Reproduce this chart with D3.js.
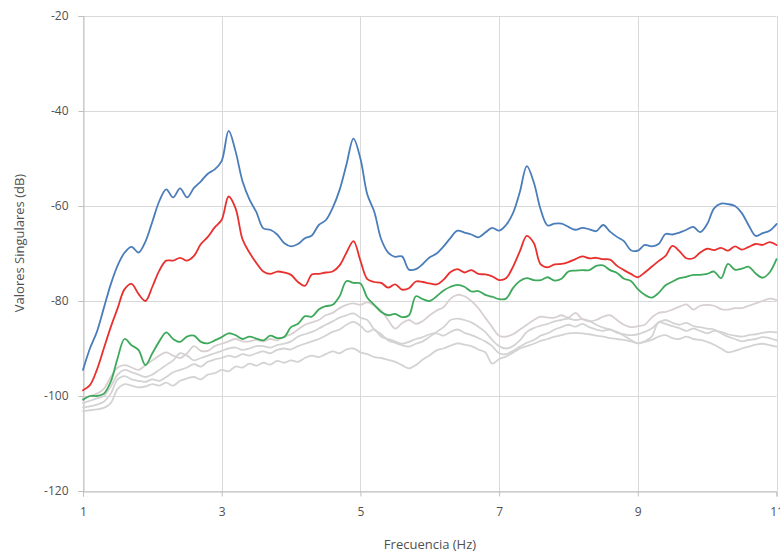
<!DOCTYPE html>
<html>
<head>
<meta charset="utf-8">
<script src="https://cdn.jsdelivr.net/npm/d3@7"></script>
<style>
  html, body { margin: 0; padding: 0; background: #fff; }
  svg { display: block; }
  text { font-family: "Open Sans", "Liberation Sans", sans-serif; fill: #505050; }
</style>
</head>
<body>
<svg id="chart" width="780" height="554"></svg>
<script>
// Frequency grid (Hz), 0.1 Hz step from 1 to 11
const frecuencias = d3.range(0, 101).map(i => +(1 + i / 10).toFixed(1));

// Singular values (dB), one value per frequency
const sv1 = [-94.5,-90.0,-86.5,-81.5,-76.5,-72.5,-69.8,-68.6,-69.8,-67.5,
  -63.3,-59.0,-56.5,-58.2,-56.3,-58.2,-56.2,-54.8,-53.2,-52.3,
  -50.5,-44.2,-48.5,-54.8,-58.6,-61.3,-64.7,-65.0,-66.0,-67.8,
  -68.5,-68.0,-66.8,-66.2,-64.0,-63.0,-60.4,-56.6,-51.2,-45.8,
  -50.0,-57.6,-61.2,-67.0,-69.8,-70.7,-70.6,-73.4,-73.3,-72.2,
  -70.8,-70.0,-68.5,-66.7,-65.2,-65.6,-66.0,-66.6,-65.6,-64.6,
  -65.2,-64.0,-61.5,-57.0,-51.6,-55.0,-60.8,-64.1,-63.7,-63.7,
  -64.4,-65.0,-64.6,-64.9,-65.3,-64.0,-65.4,-66.5,-67.4,-69.3,
  -69.4,-68.2,-68.5,-68.0,-65.9,-66.0,-65.6,-65.0,-64.4,-65.5,
  -63.8,-60.5,-59.5,-59.6,-60.0,-61.5,-64.1,-66.3,-65.7,-65.2,
  -63.8];

const sv2 = [-98.8,-97.7,-94.5,-90.0,-85.5,-81.5,-77.5,-76.4,-78.5,-80.0,
  -77.0,-73.6,-71.5,-71.5,-70.9,-71.5,-70.5,-68.0,-66.5,-64.5,
  -62.9,-58.0,-60.5,-67.0,-69.8,-72.0,-73.8,-74.3,-73.8,-74.0,
  -74.5,-76.0,-76.8,-74.4,-74.3,-74.0,-73.8,-72.5,-69.8,-67.4,
  -71.5,-75.4,-76.0,-76.2,-77.2,-76.5,-77.6,-77.3,-75.9,-76.0,
  -76.3,-76.5,-75.5,-73.9,-73.3,-74.0,-73.5,-74.3,-74.4,-74.8,
  -75.6,-75.2,-72.8,-69.5,-66.3,-67.8,-72.3,-72.9,-72.3,-72.2,
  -71.8,-71.2,-70.6,-71.0,-70.9,-71.2,-71.3,-72.6,-73.5,-74.3,
  -75.0,-74.0,-72.8,-71.6,-70.5,-68.4,-69.5,-71.0,-71.0,-69.8,
  -69.0,-69.3,-68.8,-69.4,-68.5,-69.2,-68.6,-68.0,-68.2,-67.6,
  -68.2];

const sv3 = [-100.8,-100.0,-100.0,-99.5,-97.0,-92.0,-88.0,-89.3,-90.3,-93.5,
  -91.0,-88.5,-86.6,-88.0,-88.6,-87.5,-87.3,-88.6,-88.9,-88.3,
  -87.6,-86.8,-87.2,-88.0,-87.5,-87.9,-88.3,-87.3,-87.8,-87.6,
  -85.5,-84.8,-83.2,-83.3,-81.8,-81.1,-80.8,-79.0,-75.8,-76.2,
  -76.3,-79.3,-80.8,-82.3,-83.0,-82.7,-83.4,-83.0,-79.0,-79.6,
  -80.0,-79.0,-77.8,-77.0,-76.6,-77.0,-78.0,-77.9,-78.7,-79.1,
  -79.6,-79.5,-77.3,-75.8,-75.2,-75.6,-75.6,-75.0,-75.7,-75.3,
  -73.8,-73.6,-73.5,-73.5,-72.6,-72.5,-73.5,-74.1,-75.3,-75.8,
  -77.5,-78.7,-79.3,-78.3,-76.7,-75.9,-75.2,-74.9,-74.5,-74.5,
  -74.3,-73.8,-75.2,-72.2,-73.4,-73.2,-72.8,-74.2,-75.1,-74.0,
  -71.2];

const sv4 = [-100.5,-100.0,-99.5,-98.5,-96.0,-94.0,-93.5,-94.0,-94.5,-93.5,
  -92.5,-91.5,-90.8,-91.5,-92.0,-91.0,-89.5,-90.5,-90.5,-89.5,
  -89.0,-88.5,-88.0,-88.5,-88.5,-88.2,-88.5,-88.0,-88.3,-87.5,
  -87.0,-86.0,-85.0,-84.5,-84.0,-83.0,-82.5,-81.5,-80.8,-80.5,
  -80.8,-80.3,-81.0,-82.0,-84.0,-85.8,-84.7,-84.0,-84.8,-84.2,
  -83.0,-82.0,-81.3,-79.5,-78.7,-79.0,-80.0,-81.5,-83.5,-85.5,
  -87.3,-87.5,-87.0,-86.0,-85.0,-84.0,-83.3,-83.5,-83.5,-83.0,
  -83.5,-82.5,-83.8,-84.3,-84.0,-83.3,-83.0,-84.0,-85.0,-85.5,
  -85.3,-85.0,-83.5,-82.5,-82.3,-81.8,-81.2,-80.7,-81.8,-81.0,
  -80.8,-81.0,-81.7,-81.8,-81.5,-81.5,-81.0,-80.5,-80.0,-79.5,
  -79.8];

const sv5 = [-101.5,-101.0,-100.5,-100.0,-98.0,-95.5,-94.5,-95.0,-95.5,-96.0,
  -95.5,-94.5,-93.5,-92.5,-91.0,-91.5,-92.5,-92.0,-91.5,-91.0,
  -90.5,-90.0,-89.8,-90.3,-90.0,-89.5,-89.5,-89.8,-89.3,-89.0,
  -88.5,-87.5,-87.0,-86.5,-85.8,-85.0,-84.3,-83.5,-83.0,-82.6,
  -83.5,-84.0,-86.0,-87.0,-88.3,-88.8,-89.3,-89.6,-89.0,-88.5,
  -87.5,-86.5,-85.5,-84.0,-83.7,-84.0,-84.5,-85.4,-86.5,-88.2,
  -89.5,-90.0,-89.5,-88.3,-86.5,-85.7,-85.2,-84.8,-84.3,-84.0,
  -83.7,-84.0,-83.8,-84.2,-85.0,-85.6,-86.0,-86.5,-87.3,-88.2,
  -88.9,-88.5,-87.5,-84.5,-84.8,-85.3,-85.7,-86.3,-85.8,-86.3,
  -86.8,-86.3,-86.5,-87.0,-87.3,-87.5,-87.2,-87.0,-86.7,-86.5,
  -86.6];

const sv6 = [-102.4,-102.2,-101.8,-101.2,-99.5,-96.5,-95.8,-96.5,-96.8,-97.0,
  -96.5,-96.8,-96.0,-95.0,-94.5,-94.0,-93.3,-93.8,-92.8,-92.3,
  -92.0,-91.5,-91.8,-91.2,-91.5,-91.0,-90.6,-91.0,-90.3,-90.0,
  -90.2,-89.5,-89.0,-88.5,-88.0,-87.3,-86.5,-86.0,-85.0,-84.4,
  -85.2,-86.5,-86.0,-87.5,-88.0,-88.5,-89.0,-88.6,-88.0,-87.6,
  -87.0,-86.8,-87.3,-86.5,-86.0,-86.7,-87.2,-87.8,-88.5,-89.5,
  -91.0,-91.2,-90.5,-89.6,-88.8,-88.2,-87.3,-86.8,-86.0,-85.5,
  -85.0,-85.4,-84.8,-85.5,-86.0,-86.3,-86.0,-86.7,-87.0,-87.2,
  -87.0,-86.5,-85.8,-84.5,-84.0,-84.6,-85.0,-84.6,-85.3,-85.5,
  -85.8,-86.0,-86.8,-87.5,-88.0,-88.5,-88.2,-88.0,-87.6,-87.8,
  -88.3];

const sv7 = [-103.2,-103.0,-102.8,-102.5,-101.5,-98.5,-97.5,-97.8,-98.2,-98.0,
  -97.5,-97.8,-97.2,-97.8,-96.8,-96.3,-96.0,-96.5,-95.5,-95.2,
  -94.5,-94.8,-93.8,-94.0,-93.2,-93.6,-93.0,-93.4,-92.6,-93.0,
  -92.5,-92.8,-92.0,-91.5,-91.8,-91.2,-90.6,-91.0,-90.2,-90.0,
  -90.8,-91.2,-91.8,-92.0,-92.4,-92.8,-93.5,-94.2,-93.5,-92.3,
  -91.4,-90.4,-90.0,-89.4,-88.9,-89.2,-89.5,-90.2,-90.8,-93.2,
  -92.2,-91.7,-90.9,-90.0,-89.5,-89.0,-88.4,-88.0,-87.5,-87.2,
  -86.8,-86.7,-86.8,-87.0,-87.3,-87.5,-87.8,-88.0,-88.2,-88.5,
  -88.9,-88.6,-88.2,-87.5,-87.2,-87.8,-88.0,-87.5,-88.0,-88.2,
  -88.6,-89.2,-90.0,-90.8,-90.5,-90.0,-89.6,-89.2,-89.0,-89.3,
  -89.6];

const xTicks = [1, 3, 5, 7, 9, 11];
const yTicks = [-120, -100, -80, -60, -40, -20];

// Drawing order: light lines first, the three dominant values on top
const series = [
  { values: sv7, color: "#d3d3d3" },
  { values: sv6, color: "#d3d3d3" },
  { values: sv5, color: "#d3d3d3" },
  { values: sv4, color: "#d8d0d0" },
  { values: sv3, color: "#3ea95b" },
  { values: sv2, color: "#e8312f" },
  { values: sv1, color: "#4a7dba" }
];

const svg = d3.select("#chart");
const plotLeft = 83, plotRight = 776.5, plotTop = 16, plotBottom = 491;

const x = d3.scaleLinear().domain([1, 11]).range([plotLeft, plotRight]);
const y = d3.scaleLinear().domain([-120, -20]).range([plotBottom, plotTop]);

// Plain hyphen-minus labels
const plainNumber = d => String(d);

// Gridlines
svg.append("g")
  .selectAll("line")
  .data(yTicks)
  .join("line")
  .attr("x1", plotLeft).attr("x2", plotRight)
  .attr("y1", d => Math.round(y(d)) + 0.5).attr("y2", d => Math.round(y(d)) + 0.5)
  .attr("stroke", "#d9d9d9").attr("stroke-width", 1);

svg.append("g")
  .selectAll("line")
  .data(xTicks)
  .join("line")
  .attr("x1", d => Math.round(x(d)) + 0.5).attr("x2", d => Math.round(x(d)) + 0.5)
  .attr("y1", plotTop).attr("y2", plotBottom)
  .attr("stroke", "#d9d9d9").attr("stroke-width", 1);

// Axes
const yAxis = svg.append("g")
  .attr("transform", `translate(${plotLeft + 0.5},0)`)
  .call(d3.axisLeft(y).tickValues(yTicks).tickSize(5).tickPadding(10).tickFormat(plainNumber));
const xAxis = svg.append("g")
  .attr("transform", `translate(0,${plotBottom + 0.5})`)
  .call(d3.axisBottom(x).tickValues(xTicks).tickSize(5).tickPadding(11).tickFormat(plainNumber));

[yAxis, xAxis].forEach(g => {
  g.select(".domain").attr("stroke", "#bfbfbf");
  g.selectAll(".tick line").attr("stroke", "#bfbfbf");
  g.selectAll(".tick text")
    .attr("fill", "#505050")
    .style("font-size", "12px")
    .style("font-family", "'Open Sans', 'Liberation Sans', sans-serif");
});

// Lines
const line = d3.line()
  .x((d, i) => x(frecuencias[i]))
  .y(d => y(d))
  .curve(d3.curveCatmullRom.alpha(0.5));

svg.append("g")
  .selectAll("path")
  .data(series)
  .join("path")
  .attr("d", s => line(s.values))
  .attr("fill", "none")
  .attr("stroke", s => s.color)
  .attr("stroke-width", 1.8)
  .attr("stroke-linejoin", "round")
  .attr("stroke-linecap", "round");

// Axis titles
svg.append("text")
  .attr("x", 430).attr("y", 549)
  .attr("text-anchor", "middle")
  .style("font-size", "13px")
  .text("Frecuencia (Hz)");

svg.append("text")
  .attr("transform", "translate(24,243) rotate(-90)")
  .attr("text-anchor", "middle")
  .style("font-size", "13px")
  .text("Valores Singulares (dB)");
</script>
</body>
</html>
